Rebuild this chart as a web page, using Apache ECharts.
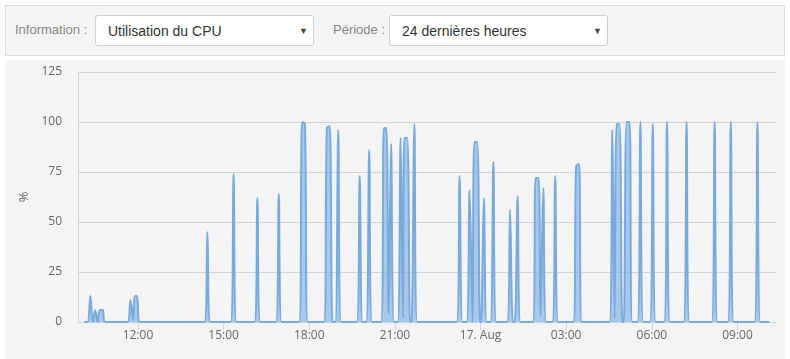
<!DOCTYPE html>
<html>
<head>
<meta charset="utf-8">
<script src="https://cdn.jsdelivr.net/npm/echarts@6.0.0/dist/echarts.min.js"></script>
<style>
  html, body { margin: 0; padding: 0; background: #ffffff; width: 790px; height: 359px; overflow: hidden; font-family: "Liberation Sans", Arial, sans-serif; }
  #panel { position: absolute; left: 5px; top: 5px; width: 778px; height: 49px; background: #f4f4f4; border: 1px solid #dedede; }
  .lbl { position: absolute; top: 22px; font-size: 13px; color: #858585; line-height: 16px; }
  .sel { position: absolute; top: 15px; height: 29px; width: 217px; background: #ffffff; border: 1px solid #cfcfcf; border-radius: 3px; }
  .sel .txt { position: absolute; left: 12px; top: 7px; font-size: 14px; color: #333; line-height: 16px; }
  .sel .arr { position: absolute; right: 5px; top: 9px; font-size: 9px; color: #444; line-height: 12px; }
  #chart { position: absolute; left: 5px; top: 60px; width: 780px; height: 299px; background: #f5f4f4; }
</style>
</head>
<body>
<div id="panel"></div>
<div class="lbl" style="left:15px">Information :</div>
<div class="sel" style="left:95px"><span class="txt">Utilisation du CPU</span><span class="arr">&#9660;</span></div>
<div class="lbl" style="left:333px">Période :</div>
<div class="sel" style="left:389px"><span class="txt">24 dernières heures</span><span class="arr">&#9660;</span></div>
<div id="chart"></div>
<script>
// Sample times ("day HH:MM", August) and CPU usage (%)
const times = [
  '16 10:07','16 10:14','16 10:20','16 10:25','16 10:30','16 10:35','16 10:40','16 10:46','16 10:51',
  '16 11:38','16 11:44','16 11:50','16 11:53','16 11:58','16 12:04',
  '16 14:20','16 14:26','16 14:32',
  '16 15:15','16 15:21','16 15:27',
  '16 16:05','16 16:11','16 16:17',
  '16 16:50','16 16:56','16 17:02',
  '16 17:39','16 17:45','16 17:51','16 17:57',
  '16 18:31','16 18:37','16 18:43','16 18:49',
  '16 18:55','16 19:01','16 19:07',
  '16 19:40','16 19:46','16 19:52',
  '16 20:00','16 20:06','16 20:12',
  '16 20:31','16 20:37','16 20:42','16 20:47',
  '16 20:52','16 20:58',
  '16 21:06','16 21:12','16 21:17',
  '16 21:20','16 21:26','16 21:32',
  '16 21:35','16 21:41','16 21:47',
  '16 23:10','16 23:16','16 23:22',
  '16 23:31','16 23:37','16 23:43',
  '16 23:47','16 23:53','16 23:59',
  '17 00:01','17 00:07','17 00:13',
  '17 00:21','17 00:27','17 00:33',
  '17 00:56','17 01:02','17 01:08',
  '17 01:12','17 01:18','17 01:24',
  '17 01:50','17 01:56','17 02:02','17 02:06',
  '17 02:12','17 02:18',
  '17 02:31','17 02:37','17 02:43',
  '17 03:15','17 03:21','17 03:27','17 03:33',
  '17 04:31','17 04:37','17 04:42',
  '17 04:46','17 04:52','17 04:58',
  '17 05:01','17 05:07','17 05:13','17 05:19',
  '17 05:30','17 05:36','17 05:42',
  '17 05:56','17 06:02','17 06:08',
  '17 06:26','17 06:32','17 06:38',
  '17 07:07','17 07:13','17 07:19',
  '17 08:06','17 08:12','17 08:18',
  '17 08:40','17 08:46','17 08:52',
  '17 09:36','17 09:42','17 09:48',
  '17 10:07'
];
const cpu = [
  0, 0, 13, 0, 6, 0, 6, 6, 0,
  0, 11, 1, 13, 13, 0,
  0, 45, 0,
  0, 74, 0,
  0, 62, 0,
  0, 64, 0,
  0, 100, 99, 0,
  0, 97, 98, 0,
  0, 96, 0,
  0, 73, 0,
  0, 86, 0,
  0, 97, 97, 4,
  89, 0,
  0, 92, 2,
  92, 92, 0,
  0, 99, 0,
  0, 73, 0,
  0, 66, 0,
  90, 90, 0,
  0, 62, 0,
  0, 80, 0,
  0, 56, 0,
  0, 63, 0,
  0, 72, 72, 3,
  67, 0,
  0, 73, 0,
  0, 78, 79, 0,
  0, 96, 2,
  99, 99, 0,
  0, 100, 100, 0,
  0, 100, 0,
  0, 99, 0,
  0, 100, 0,
  0, 100, 0,
  0, 100, 0,
  0, 100, 0,
  0, 100, 0,
  0
];
const yTicks = [0, 25, 50, 75, 100, 125];
const xTickTimes = ['16 12:00','16 15:00','16 18:00','16 21:00','17 00:00','17 03:00','17 06:00','17 09:00'];
const xRange = ['16 09:54', '17 10:21'];
const yAxisTitle = '%';

function toMin(s) {
  const parts = s.split(' ');
  const day = parseInt(parts[0], 10);
  const hm = parts[1].split(':');
  return (day - 16) * 1440 + parseInt(hm[0], 10) * 60 + parseInt(hm[1], 10);
}
function fmt(m) {
  if (m % 1440 === 0) return (16 + m / 1440) + '. Aug';
  const mm = ((m % 1440) + 1440) % 1440;
  const h = Math.floor(mm / 60), mi = mm % 60;
  return String(h).padStart(2, '0') + ':' + String(mi).padStart(2, '0');
}

const data = times.map((t, i) => [toMin(t), cpu[i]]);
const xTicks = xTickTimes.map(toMin);

const chart = echarts.init(document.getElementById('chart'), null, { renderer: 'canvas' });
chart.setOption({
  animation: false,
  backgroundColor: '#f5f4f4',
  grid: { left: 73, right: 9, top: 12, bottom: 37, containLabel: false, outerBoundsMode: 'none' },
  xAxis: {
    type: 'value',
    min: toMin(xRange[0]),
    max: toMin(xRange[1]),
    axisLine: { show: true, lineStyle: { color: '#ccd6eb', width: 1 } },
    axisTick: { show: true, customValues: xTicks, length: 8, lineStyle: { color: '#ccd6eb' } },
    axisLabel: { customValues: xTicks, formatter: v => fmt(v), color: '#666666', fontSize: 12, margin: 8, fontFamily: 'Open Sans' },
    splitLine: { show: false }
  },
  yAxis: {
    type: 'value',
    min: yTicks[0],
    max: yTicks[yTicks.length - 1],
    interval: 25,
    name: yAxisTitle,
    nameLocation: 'middle',
    nameGap: 42,
    nameRotate: 90,
    nameTextStyle: { color: '#666666', fontSize: 13, fontFamily: 'Open Sans' },
    axisLine: { show: true, lineStyle: { color: '#cfcfcf' } },
    axisTick: { show: false },
    axisLabel: { color: '#666666', fontSize: 12, margin: 16, fontFamily: 'Open Sans' },
    splitLine: { show: true, lineStyle: { color: '#d2d2d2', width: 1 } }
  },
  series: [{
    type: 'line',
    data: data,
    showSymbol: false,
    smooth: 0.35,
    lineStyle: { color: '#7aaadc', width: 2 },
    areaStyle: { color: 'rgba(122,176,232,0.9)' },
    z: 3
  }]
});
</script>
</body>
</html>
